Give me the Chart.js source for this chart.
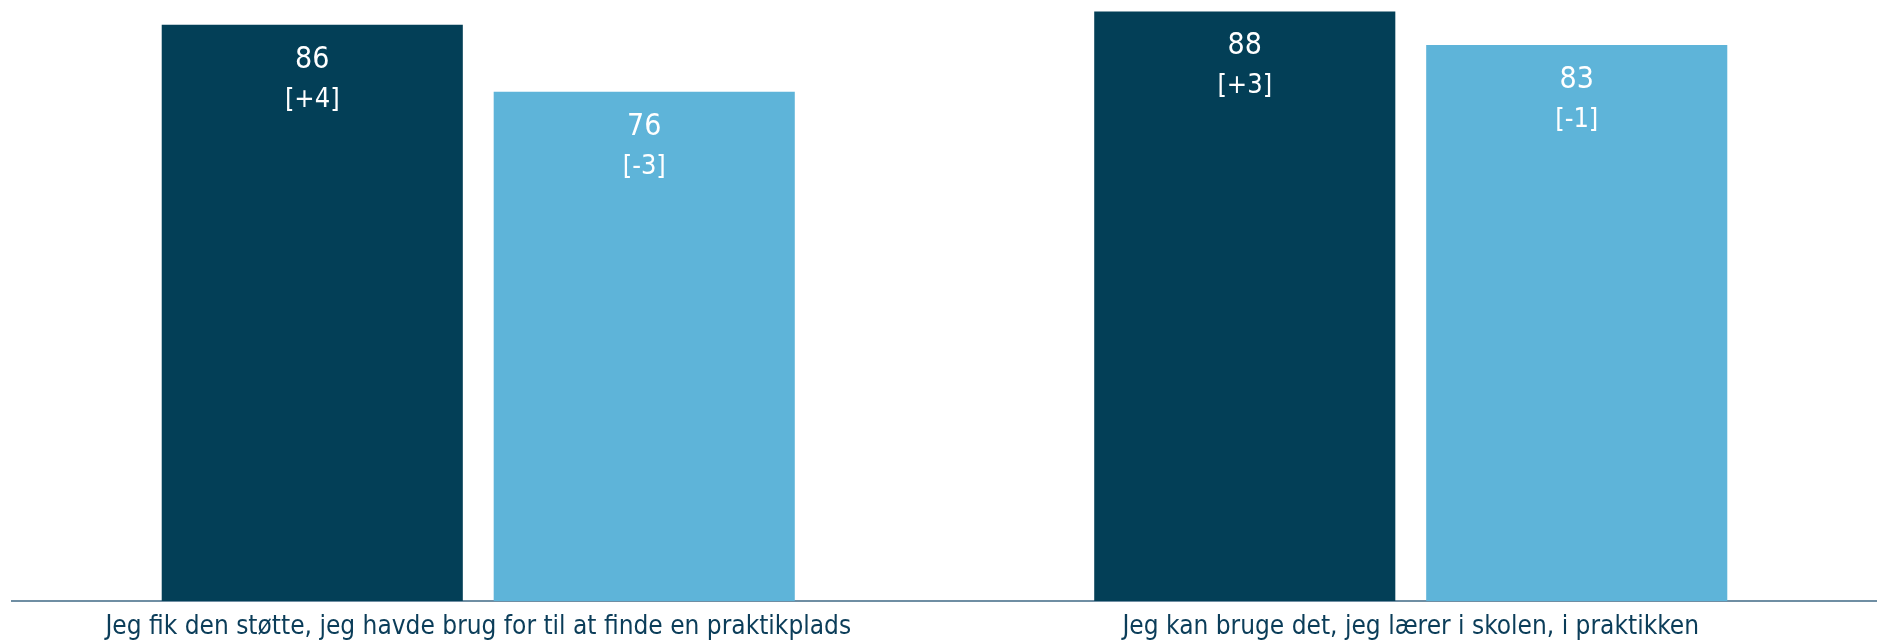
<!DOCTYPE html>
<html>
<head>
<meta charset="utf-8">
<script src="https://cdn.jsdelivr.net/npm/chart.js@4"></script>
<style>
  html, body { margin: 0; padding: 0; background: #fff; }
  #wrap { width: 1877px; height: 642px; }
</style>
</head>
<body>
<div id="wrap"><canvas id="barChart"></canvas></div>
<script>
let categories = [
    'Jeg fik den støtte, jeg havde brug for til at finde en praktikplads',
    'Jeg kan bruge det, jeg lærer i skolen, i praktikken'
];
let seriesA = [86, 88];
let seriesB = [76, 83];
let changeA = ['[+4]', '[+3]'];
let changeB = ['[-3]', '[-1]'];

let darkBlue = '#033f57';
let lightBlue = '#5eb4d9';
let labelFont = '"DejaVu Sans Condensed", "DejaVu Sans", sans-serif';

// writes value + change inside the top of each bar
const insideLabels = {
    id: 'insideLabels',
    afterDatasetsDraw(chart) {
        const ctx = chart.ctx;
        const changes = [changeA, changeB];
        ctx.save();
        ctx.fillStyle = '#ffffff';
        ctx.textAlign = 'center';
        ctx.textBaseline = 'middle';
        chart.data.datasets.forEach((ds, i) => {
            chart.getDatasetMeta(i).data.forEach((bar, j) => {
                ctx.font = '30px ' + labelFont;
                ctx.fillText(ds.data[j], bar.x, bar.y + 35);
                ctx.font = '27px ' + labelFont;
                ctx.fillText(changes[i][j], bar.x, bar.y + 75);
            });
        });
        ctx.restore();
    }
};

let barChart = new Chart(document.getElementById('barChart').getContext('2d'), {
    type: 'bar',
    data: {
        labels: categories,
        datasets: [
            { label: 'A', data: seriesA, backgroundColor: darkBlue },
            { label: 'B', data: seriesB, backgroundColor: lightBlue }
        ]
    },
    options: {
        responsive: true,
        maintainAspectRatio: false,
        animation: false,
        categoryPercentage: 0.712,
        barPercentage: 0.907,
        layout: { padding: { left: 12, right: 0, top: 0, bottom: 0 } },
        plugins: {
            legend: { display: false },
            tooltip: { enabled: false }
        },
        scales: {
            x: {
                grid: { display: false },
                border: { display: true, color: '#6f8ea3', width: 2 },
                ticks: {
                    color: '#0b3d59',
                    font: { family: labelFont, size: 26, lineHeight: 1.15 },
                    padding: 3,
                    maxRotation: 0
                },
                afterFit(scale) { scale.height = 41; }
            },
            y: {
                display: false,
                min: 0,
                max: 89.7
            }
        }
    },
    plugins: [insideLabels]
});
</script>
</body>
</html>
